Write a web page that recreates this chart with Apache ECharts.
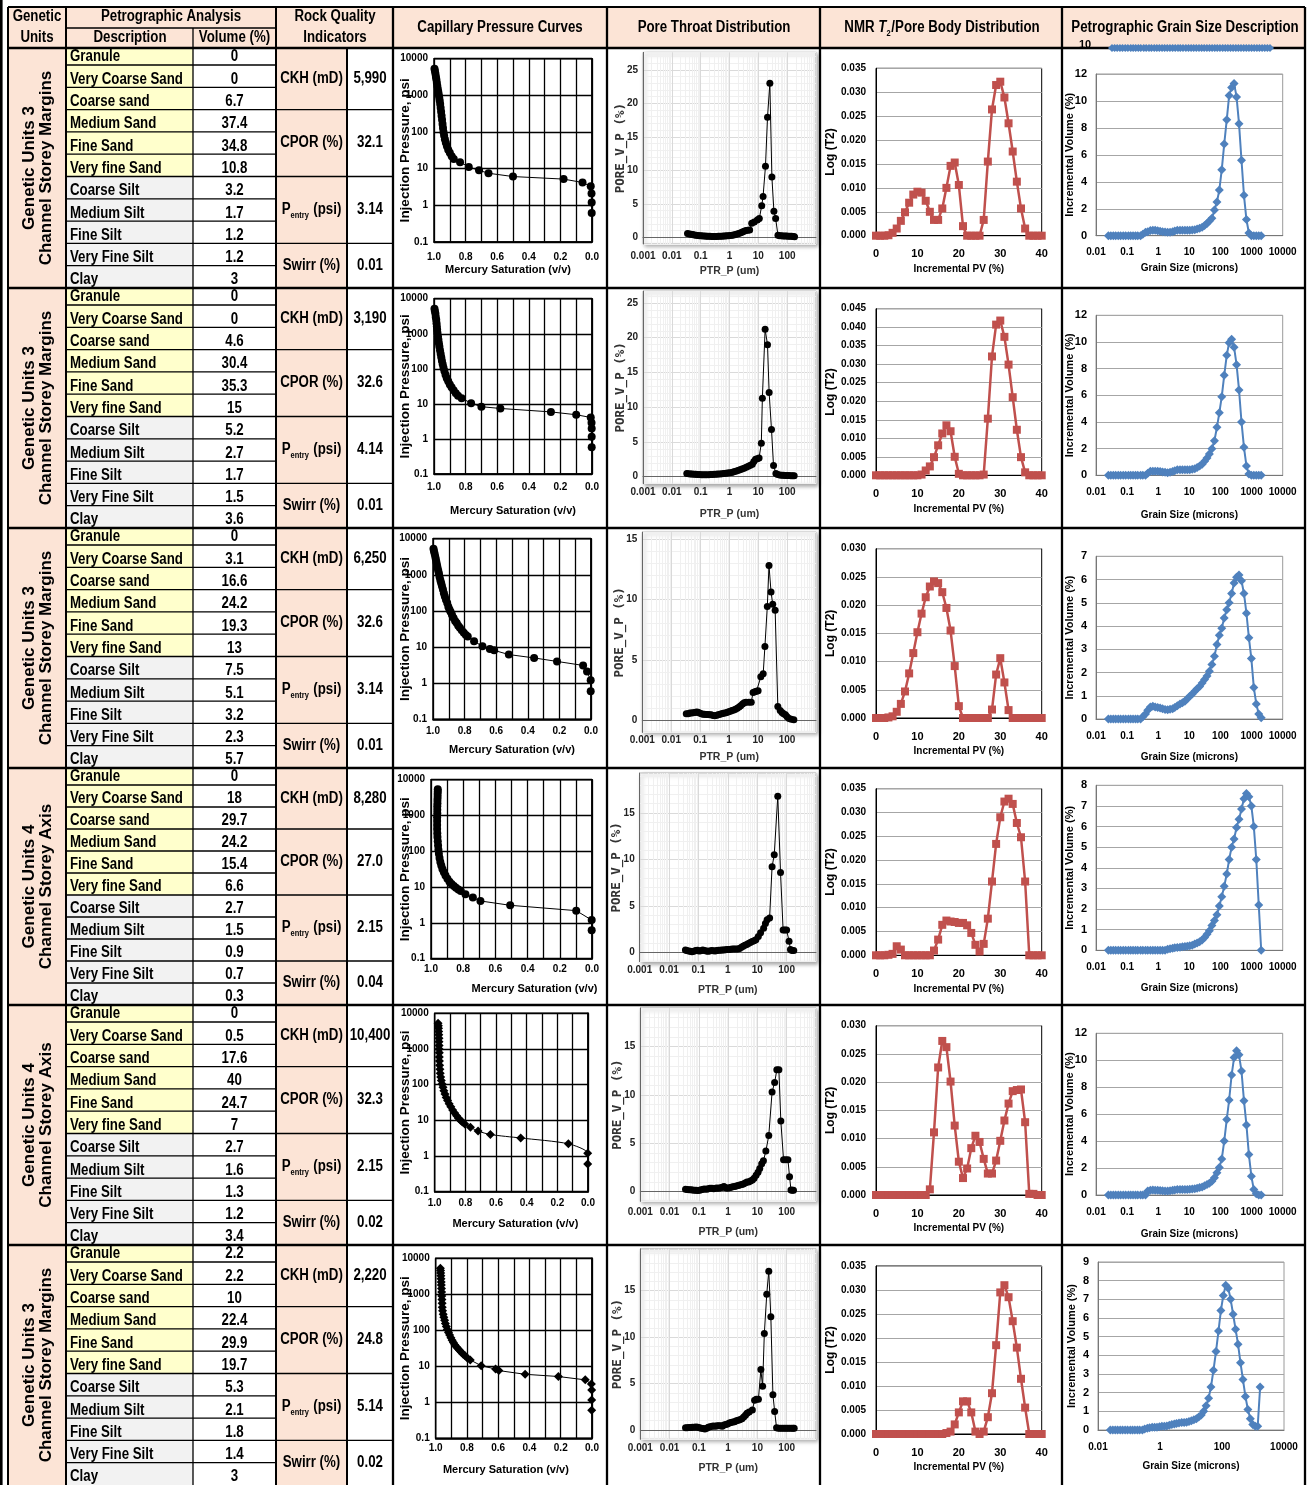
<!DOCTYPE html>
<html>
<head>
<meta charset="utf-8">
<title>Genetic unit rock typing summary</title>
<script src="https://cdn.jsdelivr.net/npm/echarts@6/dist/echarts.min.js"></script>
<style>
html,body{margin:0;padding:0;background:#fff;}
#chart{width:1309px;height:1485px;}
</style>
</head>
<body>
<div id="chart"></div>
<script>
// ---------------- table data ----------------
const grainClasses = ['Granule','Very Coarse Sand','Coarse sand','Medium Sand','Fine Sand','Very fine Sand',
  'Coarse Silt','Medium Silt','Fine Silt','Very Fine Silt','Clay'];
const unitLine1 = ['Genetic Units 3','Genetic Units 3','Genetic Units 3','Genetic Units 4','Genetic Units 4','Genetic Units 3'];
const unitLine2 = ['Channel Storey Margins','Channel Storey Margins','Channel Storey Margins','Channel Storey Axis','Channel Storey Axis','Channel Storey Margins'];
const volR1 = [0,0,6.7,37.4,34.8,10.8,3.2,1.7,1.2,1.2,3];
const volR2 = [0,0,4.6,30.4,35.3,15,5.2,2.7,1.7,1.5,3.6];
const volR3 = [0,3.1,16.6,24.2,19.3,13,7.5,5.1,3.2,2.3,5.7];
const volR4 = [0,18,29.7,24.2,15.4,6.6,2.7,1.5,0.9,0.7,0.3];
const volR5 = [0,0.5,17.6,40,24.7,7,2.7,1.6,1.3,1.2,3.4];
const volR6 = [2.2,2.2,10,22.4,29.9,19.7,5.3,2.1,1.8,1.4,3];
const ckh = ['5,990','3,190','6,250','8,280','10,400','2,220'];
const cpor = ['32.1','32.6','32.6','27.0','32.3','24.8'];
const pentry = ['3.14','4.14','3.14','2.15','2.15','5.14'];
const swirr = ['0.01','0.01','0.01','0.04','0.02','0.02'];

// ---------------- capillary pressure: [Hg saturation, injection pressure psi] ----------------
const capR1 = [[0.997,5300],[0.994,4600],[0.991,3900],[0.988,3200],[0.985,2700],[0.982,2200],[0.979,1800],[0.976,1500],[0.973,1250],[0.970,1050],[0.967,880],[0.964,720],[0.961,580],[0.958,460],[0.955,360],[0.952,280],[0.949,215],[0.946,165],[0.943,128],[0.940,100],[0.936,80],[0.931,64],[0.925,51],[0.918,41],[0.910,33],[0.900,27],[0.888,22],[0.875,18.5],[0.835,15],[0.78,11.2],[0.715,9],[0.655,7.5],[0.50,6.1],[0.18,5.2],[0.06,4.2],[0.008,3.3],[0.003,2.1],[0.002,1.2],[0.002,0.62]];
const capR2 = [[0.997,5200],[0.994,4400],[0.991,3700],[0.989,3000],[0.986,2500],[0.984,2000],[0.982,1600],[0.980,1300],[0.978,1050],[0.975,850],[0.972,680],[0.969,540],[0.966,430],[0.962,340],[0.958,270],[0.954,215],[0.950,170],[0.945,135],[0.940,108],[0.934,86],[0.927,68],[0.919,54],[0.910,44],[0.900,36],[0.889,30],[0.876,24.5],[0.862,20],[0.848,17],[0.825,14.5],[0.765,10.5],[0.70,8.3],[0.58,7.4],[0.26,5.9],[0.10,4.9],[0.008,4.1],[0.003,2.9],[0.002,2.0],[0.002,1.15],[0.002,0.58]];
const capR3 = [[0.997,5300],[0.994,4600],[0.990,3900],[0.986,3200],[0.982,2700],[0.978,2200],[0.974,1800],[0.970,1500],[0.966,1250],[0.962,1050],[0.958,860],[0.953,700],[0.948,580],[0.943,480],[0.937,390],[0.931,310],[0.925,250],[0.918,205],[0.910,165],[0.903,130],[0.896,110],[0.889,95],[0.880,78],[0.870,64],[0.860,53],[0.850,46],[0.840,39],[0.830,34],[0.818,29],[0.805,25],[0.792,21.5],[0.780,19.5],[0.74,14.4],[0.687,10.6],[0.64,8.9],[0.613,8.1],[0.52,6.2],[0.36,5.0],[0.215,4.0],[0.05,3.1],[0.025,2.1],[0.002,1.2],[0.002,0.6]];
const capR4 = [[0.958,5400],[0.958,4700],[0.959,4000],[0.959,3300],[0.960,2700],[0.960,2200],[0.961,1800],[0.961,1450],[0.961,1150],[0.962,900],[0.962,700],[0.962,540],[0.962,420],[0.961,320],[0.960,250],[0.958,190],[0.956,145],[0.954,110],[0.951,85],[0.947,65],[0.942,50],[0.936,40],[0.929,32],[0.920,26],[0.910,21],[0.898,17],[0.885,14],[0.872,12.2],[0.858,10.8],[0.845,9.6],[0.830,8.6],[0.815,7.8],[0.786,6.3],[0.74,5.1],[0.693,4.1],[0.508,3.1],[0.098,2.2],[0.002,1.2],[0.002,0.62]];
const capR5 = [[0.978,5300],[0.976,4500],[0.975,3800],[0.974,3100],[0.973,2500],[0.972,2000],[0.972,1600],[0.971,1250],[0.971,1000],[0.970,780],[0.970,600],[0.969,460],[0.968,350],[0.966,270],[0.964,210],[0.961,165],[0.957,130],[0.952,105],[0.946,84],[0.940,68],[0.933,55],[0.925,44],[0.916,36],[0.906,29],[0.895,24],[0.883,19.5],[0.870,16],[0.857,13.5],[0.845,11.5],[0.832,10],[0.820,9],[0.804,7.9],[0.767,6.4],[0.717,5.0],[0.637,4.0],[0.439,3.2],[0.128,2.2],[0.002,1.2],[0.002,0.6]];
const capR6 = [[0.970,5300],[0.969,4600],[0.968,3900],[0.967,3300],[0.966,2700],[0.965,2200],[0.964,1800],[0.963,1450],[0.962,1150],[0.961,900],[0.960,720],[0.959,560],[0.958,440],[0.956,350],[0.952,280],[0.948,230],[0.943,190],[0.938,155],[0.932,127],[0.926,105],[0.918,87],[0.911,74],[0.903,62],[0.895,53],[0.887,46],[0.878,40],[0.868,35],[0.858,31],[0.847,27.5],[0.836,24.5],[0.826,22],[0.812,19.5],[0.798,17],[0.779,15],[0.709,10.4],[0.617,8.4],[0.596,7.6],[0.428,6.0],[0.215,5.2],[0.043,4.2],[0.004,3.2],[0.002,2.2],[0.002,1.15],[0.002,0.6]];

// ---------------- pore throat distribution: [throat radius um, pore volume %] ----------------
const poreR1 = [[0.035,0.55],[0.04,0.5],[0.046,0.45],[0.053,0.4],[0.06,0.35],[0.07,0.3],[0.08,0.27],[0.092,0.24],[0.105,0.22],[0.12,0.2],[0.14,0.18],[0.16,0.16],[0.18,0.15],[0.21,0.14],[0.24,0.13],[0.27,0.13],[0.31,0.13],[0.36,0.13],[0.41,0.14],[0.47,0.15],[0.54,0.16],[0.62,0.18],[0.71,0.2],[0.81,0.22],[0.93,0.25],[1.07,0.28],[1.22,0.32],[1.4,0.36],[1.6,0.42],[1.85,0.5],[2.1,0.58],[2.45,0.68],[2.8,0.8],[3.2,0.92],[3.7,1.0],[4.3,1.05],[5.0,1.1],[5.9,2.1],[7.2,2.3],[9.2,2.6],[10.8,2.8],[13.1,4.7],[14.6,6.1],[17.7,10.6],[20.8,17.9],[25.1,23.0],[29.5,9.0],[34.7,3.9],[39.8,2.8],[48,0.3],[55,0.25],[63,0.22],[72,0.2],[83,0.2],[95,0.18],[109,0.17],[125,0.15],[143,0.14],[165,0.12],[180,0.1]];
const poreR2 = [[0.033,0.45],[0.038,0.42],[0.044,0.4],[0.05,0.38],[0.058,0.36],[0.067,0.34],[0.077,0.32],[0.09,0.3],[0.105,0.28],[0.12,0.27],[0.14,0.27],[0.16,0.28],[0.19,0.28],[0.22,0.3],[0.26,0.32],[0.3,0.34],[0.35,0.36],[0.4,0.38],[0.47,0.4],[0.55,0.43],[0.64,0.46],[0.75,0.5],[0.87,0.53],[1.0,0.56],[1.2,0.62],[1.4,0.7],[1.65,0.8],[1.95,0.9],[2.3,1.0],[2.7,1.1],[3.2,1.2],[3.8,1.35],[4.5,1.5],[5.3,1.65],[6.2,1.8],[7.0,2.2],[8.0,2.5],[9.2,2.6],[10.6,2.7],[12.7,4.8],[13.8,11.3],[17.2,21.2],[20.8,19.0],[23.7,12.1],[28.6,6.8],[33.7,1.6],[40.8,0.45],[47,0.3],[55,0.25],[64,0.2],[74,0.2],[86,0.18],[100,0.17],[116,0.16],[135,0.15],[155,0.15],[175,0.15]];
const poreR3 = [[0.033,0.55],[0.038,0.55],[0.044,0.6],[0.05,0.6],[0.057,0.62],[0.065,0.65],[0.074,0.68],[0.084,0.66],[0.095,0.6],[0.11,0.55],[0.125,0.5],[0.14,0.5],[0.16,0.48],[0.185,0.47],[0.21,0.46],[0.24,0.45],[0.28,0.4],[0.32,0.38],[0.37,0.42],[0.42,0.45],[0.48,0.5],[0.55,0.55],[0.63,0.58],[0.72,0.6],[0.83,0.65],[0.95,0.7],[1.1,0.75],[1.25,0.8],[1.45,0.85],[1.65,0.92],[1.9,1.0],[2.2,1.1],[2.5,1.2],[2.9,1.35],[3.3,1.45],[3.8,1.5],[4.8,1.5],[5.8,1.5],[6.7,2.3],[7.7,2.35],[8.8,2.4],[10,2.45],[12.4,3.6],[15,3.85],[17.2,6.1],[20.8,9.4],[23.8,12.8],[28,10.6],[32,9.6],[38.8,9.1],[48,1.15],[58,0.8],[67,0.65],[76,0.55],[88,0.45],[100,0.3],[118,0.15],[140,0.08],[172,0.05]];
const poreR4 = [[0.036,0.25],[0.04,0.2],[0.046,0.15],[0.053,0.1],[0.06,0.05],[0.07,0.12],[0.08,0.2],[0.092,0.22],[0.105,0.15],[0.12,0.18],[0.14,0.25],[0.16,0.2],[0.185,0.15],[0.21,0.12],[0.24,0.15],[0.28,0.2],[0.32,0.18],[0.37,0.15],[0.42,0.2],[0.48,0.22],[0.55,0.22],[0.63,0.25],[0.72,0.25],[0.83,0.28],[0.95,0.3],[1.1,0.3],[1.25,0.32],[1.45,0.35],[1.65,0.35],[1.9,0.35],[2.2,0.35],[2.5,0.4],[2.9,0.55],[3.3,0.65],[3.8,0.75],[4.4,0.85],[5.0,0.95],[5.8,1.05],[6.7,1.15],[7.8,1.25],[9,1.35],[10.9,1.7],[13,2.1],[16.5,2.6],[19,3.1],[21.7,3.5],[26.4,3.7],[32,9.2],[37.9,10.5],[50,16.8],[62,8.6],[76,2.4],[87,2.4],[100,2.4],[121,1.2],[135,0.3],[152,0.2],[175,0.2]];
const poreR5 = [[0.035,0.25],[0.04,0.22],[0.046,0.2],[0.053,0.2],[0.06,0.18],[0.07,0.15],[0.08,0.15],[0.092,0.12],[0.105,0.15],[0.12,0.2],[0.14,0.25],[0.16,0.28],[0.185,0.25],[0.21,0.3],[0.24,0.35],[0.28,0.35],[0.32,0.3],[0.37,0.35],[0.42,0.38],[0.48,0.35],[0.55,0.4],[0.63,0.45],[0.72,0.55],[0.83,0.4],[0.95,0.35],[1.1,0.4],[1.25,0.45],[1.45,0.5],[1.65,0.55],[1.9,0.6],[2.2,0.65],[2.5,0.7],[2.9,0.75],[3.3,0.8],[3.8,0.9],[4.4,1.0],[5.0,1.0],[5.8,1.1],[6.7,1.2],[7.7,1.4],[9,1.7],[10.5,2.0],[12,2.4],[14,2.9],[16,3.2],[19.4,4.2],[24.4,5.8],[31.6,10.3],[38.7,11.3],[46,12.6],[54,12.6],[63,7.3],[78,3.3],[92,3.3],[110,3.3],[125,1.55],[140,0.17],[155,0.15],[170,0.15]];
const poreR6 = [[0.035,0.25],[0.04,0.25],[0.046,0.28],[0.053,0.28],[0.06,0.3],[0.07,0.3],[0.08,0.32],[0.092,0.3],[0.105,0.25],[0.12,0.2],[0.14,0.15],[0.16,0.1],[0.185,0.2],[0.21,0.3],[0.24,0.35],[0.28,0.4],[0.32,0.42],[0.37,0.4],[0.42,0.45],[0.48,0.45],[0.55,0.45],[0.63,0.4],[0.72,0.55],[0.83,0.6],[0.95,0.65],[1.1,0.75],[1.25,0.8],[1.45,0.85],[1.65,0.9],[1.9,1.0],[2.2,1.05],[2.5,1.1],[2.95,1.2],[3.4,1.4],[3.9,1.6],[4.4,1.8],[5.2,1.95],[6.7,2.15],[8.0,3.2],[9.2,3.3],[10.8,3.3],[13.1,6.5],[15,4.7],[17.2,10.4],[20.8,14.6],[24.4,17.1],[28.7,12.2],[33.8,3.8],[38.7,2.0],[45,0.25],[52,0.2],[60,0.2],[70,0.2],[81,0.2],[94,0.2],[108,0.2],[125,0.2],[145,0.2],[165,0.2],[180,0.2]];

// ---------------- NMR T2 / pore body: incremental PV bins and Log(T2) ----------------
const pvBins = [0,1,2,3,4,5,6,7,8,9,10,11,12,13,14,15,16,17,18,19,20,21,22,23,24,25,26,27,28,29,30,31,32,33,34,35,36,37,38,39,40];
const nmrR1 = [0,0,0,0.0001,0.0006,0.0015,0.0031,0.0049,0.0069,0.0086,0.0092,0.009,0.0073,0.005,0.0033,0.0033,0.0057,0.01,0.0146,0.0153,0.0106,0.002,0,0,0,0,0.0033,0.0155,0.0264,0.0315,0.0322,0.0289,0.0235,0.0176,0.0113,0.0057,0.0015,0,0,0,0];
const nmrR2 = [0,0,0,0,0,0,0,0,0,0,0,0.0002,0.0013,0.0024,0.0049,0.0081,0.0113,0.0135,0.0119,0.005,0.0004,0,0,0,0,0,0.0002,0.0153,0.0321,0.0407,0.0418,0.0374,0.0299,0.0211,0.0123,0.0049,0.0008,0,0,0,0];
const nmrR3 = [0,0,0,0.0001,0.0003,0.0011,0.0025,0.0047,0.0079,0.0115,0.0152,0.0185,0.0214,0.0233,0.0242,0.0239,0.0223,0.0195,0.0155,0.0092,0.0021,0,0,0,0,0,0,0,0.0015,0.0077,0.0106,0.0063,0.0014,0,0,0,0,0,0,0,0];
const nmrR4 = [0,0,0,0.0001,0.0003,0.0019,0.0012,0,0,0,0,0,0,0,0.001,0.0033,0.0064,0.0073,0.0071,0.007,0.0068,0.0068,0.0063,0.0047,0.0022,0.0008,0.0024,0.0077,0.0155,0.0234,0.029,0.0323,0.0329,0.0318,0.0278,0.0248,0.0155,0,0,0,0];
const nmrR5 = [0,0,0,0,0,0,0,0,0,0,0,0,0,0.001,0.0111,0.0226,0.0273,0.0262,0.0201,0.0123,0.0059,0.003,0.0047,0.0083,0.0105,0.0094,0.0064,0.0038,0.0038,0.0061,0.0096,0.0132,0.0162,0.0184,0.0186,0.0187,0.0129,0.0002,0.0002,0,0];
const nmrR6 = [0,0,0,0,0,0,0,0,0,0,0,0,0,0,0,0,0,0.0002,0.0005,0.002,0.0045,0.0068,0.0068,0.0045,0.0005,0,0.0005,0.0035,0.0085,0.0185,0.0295,0.031,0.0285,0.0235,0.018,0.0115,0.0055,0,0,0,0];

// ---------------- petrographic grain size: size bins (microns) and incremental volume % ----------------
const grainBins = [0.025,0.03,0.036,0.043,0.052,0.062,0.075,0.09,0.11,0.13,0.155,0.186,0.22,0.27,0.32,0.39,0.46,0.56,0.67,0.8,0.96,1.15,1.38,1.66,2,2.4,2.9,3.4,4.1,5,6,7.2,8.6,10.3,12.4,14.9,17.8,21.4,25.7,30.8,37,44,53,64,77,92,110,132,159,190,228,274,329,395,474,569,683,819,983,1180,1416,1699,2039];
const grainR1 = [0,0,0,0,0,0,0,0,0,0,0,0,0,0,0.1,0.25,0.3,0.38,0.4,0.4,0.37,0.33,0.3,0.27,0.25,0.25,0.3,0.35,0.4,0.4,0.4,0.4,0.4,0.4,0.42,0.45,0.5,0.55,0.62,0.75,0.9,1.1,1.3,1.9,2.5,3.4,4.9,6.8,8.6,10.4,11.0,11.3,10.3,8.3,5.6,3.0,1.2,0.2,0,0,0,0,0];
const grainR2 = [0,0,0,0,0,0,0,0,0,0,0,0,0,0,0,0,0.15,0.3,0.3,0.3,0.3,0.28,0.25,0.22,0.2,0.22,0.28,0.35,0.42,0.42,0.42,0.42,0.42,0.42,0.45,0.5,0.58,0.7,0.82,1.05,1.3,1.6,2.0,2.6,3.6,4.7,5.9,7.5,9.0,9.95,10.2,9.6,8.3,6.4,4.0,2.1,0.7,0.1,0,0,0,0,0];
const grainR3 = [0,0,0,0,0,0,0,0,0,0,0,0,0,0,0.1,0.22,0.38,0.52,0.55,0.52,0.5,0.47,0.44,0.41,0.4,0.42,0.44,0.5,0.57,0.65,0.7,0.76,0.87,0.98,1.08,1.19,1.3,1.4,1.55,1.7,1.85,2.05,2.35,2.7,3.2,3.6,3.9,4.35,4.7,5.0,5.4,5.85,6.1,6.2,5.95,5.4,4.55,3.5,2.6,1.35,0.65,0.22,0.05];
const grainR4 = [0,0,0,0,0,0,0,0,0,0,0,0,0,0,0,0,0,0,0,0,0,0,0,0,0.05,0.08,0.1,0.12,0.13,0.15,0.17,0.18,0.2,0.22,0.25,0.3,0.35,0.42,0.5,0.62,0.78,0.95,1.2,1.45,1.72,2.15,2.6,3.1,3.7,4.4,5.0,5.4,5.95,6.35,6.85,7.35,7.6,7.45,7.0,6.0,4.4,2.2,0];
const grainR5 = [0,0,0,0,0,0,0,0,0,0,0,0,0,0,0,0,0.3,0.35,0.37,0.36,0.35,0.33,0.32,0.3,0.3,0.32,0.35,0.37,0.4,0.4,0.4,0.4,0.4,0.42,0.44,0.47,0.5,0.55,0.6,0.68,0.77,0.88,1.02,1.28,1.65,2.05,2.67,4.0,5.6,7.05,8.9,10.2,10.7,10.4,9.2,7.0,5.2,3.0,1.4,0.4,0.1,0,0];
const grainR6 = [0,0,0,0,0,0,0,0,0,0,0,0,0,0,0.05,0.1,0.12,0.15,0.15,0.15,0.18,0.2,0.2,0.22,0.25,0.3,0.32,0.35,0.38,0.4,0.4,0.42,0.45,0.5,0.55,0.6,0.7,0.8,1.0,1.3,1.7,2.3,3.2,4.2,5.3,6.4,7.2,7.75,7.6,7.0,6.2,5.4,4.6,3.6,2.7,1.8,1.1,0.6,0.3,0.2,0.2,2.3,null];
// stray strip of a grain-size trace that overlaps the header cell
const headerStrip = [0,0,0,0,0,0,0,0,0,0,0,0,0,0,0,0,0,0,0,0,0,0,0,0,0,0,0,0,0,0,0,0,0,0,0,0,0,0,0,0,0,0,0,0,0,0,0,0,0,0,0,0,0,0,0,0,0,0,0,0,0];

// ---------------- layout ----------------
const SANS = "'Liberation Sans',Arial,Helvetica,sans-serif";
const NARROW_X = 0.83;   // horizontal squeeze that gives the condensed table lettering
const PEACH = '#fce4d6', YELLOW = '#ffffcc', GREY = '#f2f2f2';
const COL = {unit: 8, desc: 66, vol: 193, rqName: 276, rqVal: 347, cap: 393, pore: 607, nmr: 820, grain: 1062, end: 1305};
const blockTop = [48, 288, 528, 768, 1005, 1245];
const blockBottom = [288, 528, 768, 1005, 1245, 1485];

const capBox = [[434,58.7,592,242],[434,298.7,592,474],[433,538.7,591,719.3],[431,779.7,592,958.7],[434.7,1013.3,588,1191.7],[435.7,1258.3,592,1438.3]];
const capLabelMargin = [10,8,7,6,7,5];
const capNameGap = [22,31,25,25,27,26];
const capNameShift = [-5,0,0,23,4,-8];
// [left, y of zero, px per unit, axis max]
const poreFrame = [[643,237.3,6.7,27.6],[643,476.7,6.95,26.7],[642.3,720.3,12.1,15.55],[639.7,952.3,9.29,19.3],[640.3,1191.7,9.67,19],[640.3,1430,9.29,19.5]];
const poreRight = 816;
const poreLabelMargin = [7,4,3,4,6,4];
const poreNameGap = [22,25,19,23,25,23];
const nmrBox = [[876,68.3,1041.7,235.7],[876,308.7,1041.7,475.3],[876,548.7,1041.7,718],[876,788.7,1041.7,955.3],[876,1025.7,1041.7,1195],[876,1266,1041.7,1434]];
const nmrMax = [0.035,0.045,0.030,0.035,0.030,0.035];
const grainBox = [[1096,74,1282.7,235.7],[1096,315.3,1282.7,475.3],[1096,556.3,1282.7,719],[1096,785.3,1282.7,950.3],[1096,1033.3,1282.7,1195],[1098,1262,1284,1430]];
const grainMax = [12,12,7,8,12,9];
const grainStep = [2,2,1,1,2,1];
const grainNameGap = [28,35,33.5,33,34.5,31.5];

const capData = [capR1,capR2,capR3,capR4,capR5,capR6];
const poreData = [poreR1,poreR2,poreR3,poreR4,poreR5,poreR6];
const nmrData = [nmrR1,nmrR2,nmrR3,nmrR4,nmrR5,nmrR6];
const grainData = [grainR1,grainR2,grainR3,grainR4,grainR5,grainR6];
const volData = [volR1,volR2,volR3,volR4,volR5,volR6];

// ---------------- table drawn with graphic elements ----------------
const gfx = [];
function rect(x, y, w, h, fill) {
  gfx.push({type: 'rect', silent: true, z: -5, shape: {x: x, y: y, width: w, height: h}, style: {fill: fill}});
}
function line(x1, y1, x2, y2, w, color) {
  gfx.push({type: 'line', silent: true, z: 1, shape: {x1: x1, y1: y1, x2: x2, y2: y2},
    style: {stroke: color || '#000', lineWidth: w || 1.3}});
}
function text(x, y, t, font, opt) {
  opt = opt || {};
  const st = {text: t, font: font, fill: '#000', align: opt.align || 'center', textAlign: opt.align || 'center',
    verticalAlign: 'middle', textVerticalAlign: 'middle'};
  if (opt.rich) st.rich = opt.rich;
  const sx = opt.sx != null ? opt.sx : NARROW_X;
  gfx.push({type: 'text', silent: true, z: opt.z != null ? opt.z : 3, x: x, y: y, rotation: opt.rot || 0,
    scaleX: sx, style: st});
}
const F16 = 'bold 16px ' + SANS;
const subRich = {
  a: {font: F16, lineHeight: 20, verticalAlign: 'middle'},
  s: {font: 'bold 9px ' + SANS, lineHeight: 20, verticalAlign: 'bottom', padding: [0, 1, 0, 0]},
  i: {font: 'italic bold 16px ' + SANS, lineHeight: 20, verticalAlign: 'middle'}
};

// header band
rect(COL.unit, 7, COL.end - COL.unit, 41, PEACH);
text(37, 17, 'Genetic', F16);
text(37, 38, 'Units', F16);
text(171, 17, 'Petrographic Analysis', F16);
text(130, 38, 'Description', F16);
text(234.5, 38, 'Volume (%)', F16);
text(335, 17, 'Rock Quality', F16);
text(335, 38, 'Indicators', F16);
text(500, 28, 'Capillary Pressure Curves', F16);
text(714, 28, 'Pore Throat Distribution', F16);
text(942, 28, '{a|NMR }{i|T}{s|2}{a|/Pore Body Distribution}', F16, {rich: subRich});
text(1185, 28, 'Petrographic Grain Size Description', F16);
text(1085, 45, '10', 'bold 11px ' + SANS, {z: 0, sx: 1});

for (let b = 0; b < 6; b++) {
  const T = blockTop[b], B = blockBottom[b];
  const rowH = (B - T - 17) / 10;
  const rb = i => B - (10 - i) * rowH;
  const rt = i => (i === 0 ? T : rb(i - 1));
  rect(COL.unit, T, COL.desc - COL.unit, B - T, PEACH);
  for (let i = 0; i < 11; i++) {
    rect(COL.desc, rt(i), COL.vol - COL.desc, rb(i) - rt(i), i < 6 ? YELLOW : GREY);
    text(COL.desc + 4, rb(i) - 8, grainClasses[i], F16, {align: 'left'});
    text((COL.vol + COL.rqName) / 2, rb(i) - 8, String(volData[b][i]), F16);
  }
  const groups = [[0, 2], [3, 5], [6, 8], [9, 10]];
  const names = ['CKH (mD)', 'CPOR (%)', '{a|P}{s|entry}{a| (psi)}', 'Swirr (%)'];
  const vals = [ckh[b], cpor[b], pentry[b], swirr[b]];
  groups.forEach((g, k) => {
    rect(COL.rqName, rt(g[0]), COL.rqVal - COL.rqName, rb(g[1]) - rt(g[0]), PEACH);
    const cy = (rt(g[0]) + rb(g[1])) / 2;
    if (k === 2) text((COL.rqName + COL.rqVal) / 2, cy, names[k], F16, {rich: subRich});
    else text((COL.rqName + COL.rqVal) / 2, cy, names[k], F16);
    text((COL.rqVal + COL.cap) / 2, cy, vals[k], F16);
  });
  for (let i = 0; i < 10; i++) line(COL.desc, rb(i), COL.rqName, rb(i), 1.3);
  [2, 5, 8].forEach(i => line(COL.rqName, rb(i), COL.cap, rb(i), 1.3));
  line(COL.unit, T, COL.end, T, 2.5);
  const cy = (T + B) / 2;
  text(29.5, cy, unitLine1[b], 'bold 17px ' + SANS, {rot: Math.PI / 2, sx: 1});
  text(46.5, cy, unitLine2[b], 'bold 17px ' + SANS, {rot: Math.PI / 2, sx: 1});
}
line(1.3, 0, 1.3, 1485, 2.6);
line(COL.unit, 7, COL.end, 7, 2);
line(COL.desc, 28, COL.rqName, 28, 1.3);
line(COL.unit, 7, COL.unit, 1485, 2);
line(COL.desc, 7, COL.desc, 1485, 2);
line(COL.vol, 28, COL.vol, 1485, 1.3);
line(COL.rqName, 7, COL.rqName, 1485, 2);
line(COL.rqVal, 48, COL.rqVal, 1485, 2);
[COL.cap, COL.pore, COL.nmr, COL.grain, COL.end].forEach(x => line(x, 7, x, 1485, 2.3));

// ---------------- charts ----------------
const option = {animation: false, textStyle: {fontFamily: SANS}, graphic: {elements: gfx},
  grid: [], xAxis: [], yAxis: [], series: []};

function addGrid(l, t, r, b, extra) {
  option.grid.push(Object.assign({left: l, top: t, width: r - l, height: b - t,
    containLabel: false, outerBoundsMode: 'none'}, extra || {}));
  return option.grid.length - 1;
}
function fmtLog(v) {
  const e = Math.round(Math.log10(v));
  return e >= 0 ? String(Math.pow(10, e)) : Math.pow(10, e).toFixed(-e);
}
function shiftPad(s) { return s >= 0 ? [0, 0, 0, 2 * s] : [0, -2 * s, 0, 0]; }
const boldLbl = (size, fam, color, extra) => Object.assign({fontSize: size, fontWeight: 'bold', fontFamily: fam, color: color || '#000'}, extra || {});

for (let r = 0; r < 6; r++) {
  // capillary pressure curve
  let c = capBox[r];
  let gi = addGrid(c[0], c[1], c[2], c[3], {show: true, borderColor: '#000', borderWidth: 1.5, backgroundColor: '#fff'});
  option.xAxis.push({type: 'value', gridIndex: gi, min: 0, max: 1, interval: 0.1, inverse: true,
    axisLine: {show: true, lineStyle: {color: '#000', width: 1.5}}, axisTick: {show: false},
    splitLine: {show: true, lineStyle: {color: '#000', width: 1.3}},
    axisLabel: boldLbl(10, SANS, '#000', {margin: capLabelMargin[r], formatter: v => {
      const k = Math.round(v * 10); return k % 2 === 0 ? (k / 10).toFixed(1) : ''; }}),
    name: 'Mercury Saturation (v/v)', nameLocation: 'middle', nameGap: capNameGap[r], nameMoveOverlap: false,
    nameTextStyle: boldLbl(11, SANS, '#000', {padding: shiftPad(capNameShift[r])})});
  option.yAxis.push({type: 'log', logBase: 10, gridIndex: gi, min: 0.1, max: 10000,
    axisLine: {show: true, lineStyle: {color: '#000', width: 1.5}}, axisTick: {show: false},
    splitLine: {show: true, lineStyle: {color: '#000', width: 1.3}},
    axisLabel: boldLbl(10, SANS, '#000', {margin: 6, formatter: fmtLog}),
    name: 'Injection Pressure, psi', nameLocation: 'middle', nameGap: c[0] - 412, nameMoveOverlap: false,
    nameTextStyle: boldLbl(13.5, SANS, '#000')});
  option.series.push({type: 'line', xAxisIndex: gi, yAxisIndex: gi, data: capData[r], silent: true,
    symbol: r >= 4 ? 'diamond' : 'circle', symbolSize: r >= 4 ? 9 : 8, smooth: r === 4 ? 0.25 : false,
    lineStyle: {color: '#000', width: 1}, itemStyle: {color: '#000'}, z: 3});

  // pore throat distribution
  const p = poreFrame[r];
  const pTop = p[1] - p[2] * p[3], pBot = p[1] + p[2];
  gi = addGrid(p[0], pTop, poreRight, pBot, {show: true, backgroundColor: '#fff', borderColor: '#b4b4b4', borderWidth: 1,
    shadowColor: 'rgba(0,0,0,0.35)', shadowBlur: 4, shadowOffsetX: 2, shadowOffsetY: 2});
  option.xAxis.push({type: 'log', logBase: 10, gridIndex: gi, min: 0.001, max: 1000,
    axisLine: {show: true, lineStyle: {color: '#666', width: 1}}, axisTick: {show: false},
    splitLine: {show: true, lineStyle: {color: '#d9d9d9', width: 1}},
    minorTick: {show: false, splitNumber: 9},
    minorSplitLine: {show: true, lineStyle: {color: '#f0f0f0', width: 1}},
    axisLabel: boldLbl(10, SANS, '#222', {margin: poreLabelMargin[r], formatter: v => (Math.round(Math.log10(v)) > 2 ? '' : fmtLog(v))}),
    name: 'PTR_P (um)', nameLocation: 'middle', nameGap: poreNameGap[r], nameMoveOverlap: false,
    nameTextStyle: boldLbl(10.5, SANS, '#333')});
  option.yAxis.push({type: 'value', gridIndex: gi, min: -1, max: p[3], interval: 1,
    axisLine: {show: true, lineStyle: {color: '#666', width: 1}}, axisTick: {show: false},
    splitLine: {show: true, lineStyle: {color: ['#f0f0f0', '#dadada', '#f0f0f0', '#f0f0f0', '#f0f0f0'], width: 1}},
    axisLabel: boldLbl(10, SANS, '#222', {margin: 5, formatter: v => (Math.abs(v % 5) < 1e-6 && v >= 0 ? String(Math.round(v)) : '')}),
    name: 'PORE_V_P (%)', nameLocation: 'middle', nameGap: 16, nameMoveOverlap: false,
    nameTextStyle: boldLbl(12.5, "'DejaVu Sans Mono',monospace", '#333')});
  option.series.push({type: 'line', xAxisIndex: gi, yAxisIndex: gi, data: poreData[r], silent: true,
    symbol: 'circle', symbolSize: 7, lineStyle: {color: '#000', width: 1}, itemStyle: {color: '#000'}, z: 3});

  // NMR T2 / pore body distribution
  const n = nmrBox[r];
  gi = addGrid(n[0], n[1], n[2], n[3], {show: true, borderColor: '#000', borderWidth: 1, backgroundColor: '#fff'});
  option.xAxis.push({type: 'value', gridIndex: gi, min: 0, max: 40, interval: 10,
    axisLine: {show: true, lineStyle: {color: '#000', width: 1}}, axisTick: {show: false}, splitLine: {show: false},
    axisLabel: boldLbl(11, SANS, '#000', {margin: 13}),
    name: 'Incremental PV (%)', nameLocation: 'middle', nameGap: 28.5, nameMoveOverlap: false,
    nameTextStyle: boldLbl(10, SANS, '#000')});
  option.yAxis.push({type: 'value', gridIndex: gi, min: 0, max: nmrMax[r], interval: 0.005,
    axisLine: {show: true, lineStyle: {color: '#000', width: 1}}, axisTick: {show: false},
    splitLine: {show: true, lineStyle: {color: '#a6a6a6', width: 1}},
    axisLabel: boldLbl(10, SANS, '#000', {margin: 10, formatter: v => v.toFixed(3)}),
    name: 'Log (T2)', nameLocation: 'middle', nameGap: 39, nameMoveOverlap: false,
    nameTextStyle: boldLbl(12, SANS, '#000')});
  option.series.push({type: 'line', xAxisIndex: gi, yAxisIndex: gi, silent: true,
    data: pvBins.map((x, i) => [x, nmrData[r][i]]),
    symbol: 'rect', symbolSize: 8, lineStyle: {color: '#c0504d', width: 2.5}, itemStyle: {color: '#c0504d'}, z: 3});

  // petrographic grain size
  const s = grainBox[r];
  gi = addGrid(s[0], s[1], s[2], s[3], {show: true, borderColor: '#9a9a9a', borderWidth: 1, backgroundColor: '#fff'});
  option.xAxis.push({type: 'log', logBase: 10, gridIndex: gi, min: 0.01, max: 10000,
    axisLine: {show: true, lineStyle: {color: '#777', width: 1}}, axisTick: {show: false}, splitLine: {show: false},
    axisLabel: boldLbl(10, SANS, '#000', {margin: 12, formatter: v => {
      const e = Math.round(Math.log10(v)); return (r === 5 && e % 2 !== 0) ? '' : fmtLog(v); }}),
    name: 'Grain Size (microns)', nameLocation: 'middle', nameGap: grainNameGap[r], nameMoveOverlap: false,
    nameTextStyle: boldLbl(10, SANS, '#000')});
  option.yAxis.push({type: 'value', gridIndex: gi, min: 0, max: grainMax[r], interval: grainStep[r],
    axisLine: {show: true, lineStyle: {color: '#777', width: 1}}, axisTick: {show: false},
    splitLine: {show: true, lineStyle: {color: '#a6a6a6', width: 1}},
    axisLabel: boldLbl(11, SANS, '#000', {margin: 9}),
    name: 'Incremental Volume (%)', nameLocation: 'middle', nameGap: 20.5, nameMoveOverlap: false,
    nameTextStyle: boldLbl(11, SANS, '#000')});
  option.series.push({type: 'line', xAxisIndex: gi, yAxisIndex: gi, silent: true, connectNulls: false,
    data: grainBins.map((x, i) => [x, grainData[r][i]]).filter(d => d[1] != null),
    symbol: 'diamond', symbolSize: 9, lineStyle: {color: '#4f81bd', width: 2}, itemStyle: {color: '#4f81bd'}, z: 3});
}

// grain-size strip overlapping the header
{
  const gi = addGrid(1112, 38, 1270, 48, {show: false});
  option.xAxis.push({type: 'log', logBase: 10, gridIndex: gi, min: 0.03, max: 1699, show: false});
  option.yAxis.push({type: 'value', gridIndex: gi, min: 0, max: 1, show: false});
  option.series.push({type: 'line', xAxisIndex: gi, yAxisIndex: gi, silent: true, clip: false,
    data: grainBins.slice(1, 62).map((x, i) => [x, headerStrip[i]]),
    symbol: 'diamond', symbolSize: 8, lineStyle: {color: '#4f81bd', width: 2}, itemStyle: {color: '#4f81bd'}, z: 4});
}

const chart = echarts.init(document.getElementById('chart'), null, {renderer: 'canvas', width: 1309, height: 1485});
chart.setOption(option);
</script>
</body>
</html>
